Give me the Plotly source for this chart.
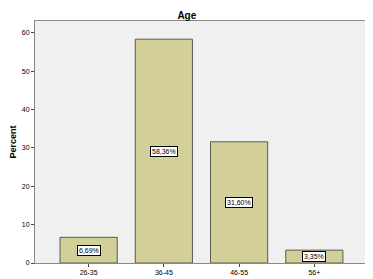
import plotly.graph_objects as go

categories = ["26-35", "36-45", "46-55", "56+"]
percents = [6.69, 58.36, 31.60, 3.35]
labels = ["6,69%", "58,36%", "31,60%", "3,35%"]
y_ticks = [0, 10, 20, 30, 40, 50, 60]

fig = go.Figure()
fig.add_trace(go.Bar(
    x=list(range(len(categories))), y=percents, width=0.76,
    marker=dict(color="#d3cf98", line=dict(color="#5a5a50", width=1)),
    hoverinfo="skip",
))
for i, (v, t) in enumerate(zip(percents, labels)):
    fig.add_annotation(x=i, y=v / 2, text=t, showarrow=False,
                       font=dict(family="Arial", size=7, color="#000"),
                       bgcolor="white", bordercolor="#000", borderwidth=1, borderpad=1)

# page body has an 8px margin, so the figure is sized to fit the window
fig.update_layout(
    width=365, height=271,
    margin=dict(l=27, r=7, t=13, b=16, autoexpand=False),
    paper_bgcolor="white", plot_bgcolor="#f0f0f0",
    showlegend=False,
    title=dict(text="<b>Age</b>", x=0.49, xanchor="center", y=0.985, yanchor="top",
               font=dict(family="Arial", size=10, color="#000")),
    xaxis=dict(tickmode="array", tickvals=list(range(len(categories))), ticktext=categories,
               range=[-0.713, 3.687], showgrid=False, zeroline=False, automargin=False,
               ticks="outside", ticklen=3, tickcolor="#444",
               showline=True, linecolor="#888", linewidth=1, mirror=True,
               tickfont=dict(family="Arial", size=7, color="#000")),
    yaxis=dict(range=[0, 63.1], tickvals=y_ticks, showgrid=False, zeroline=False, automargin=False,
               ticks="outside", ticklen=3, tickcolor="#444",
               showline=True, linecolor="#888", linewidth=1, mirror=True,
               tickfont=dict(family="Arial", size=7, color="#000"),
               title=dict(text="<b>Percent</b>", standoff=6,
                          font=dict(family="Arial", size=9, color="#000"))),
)
fig.write_html("out.html")
